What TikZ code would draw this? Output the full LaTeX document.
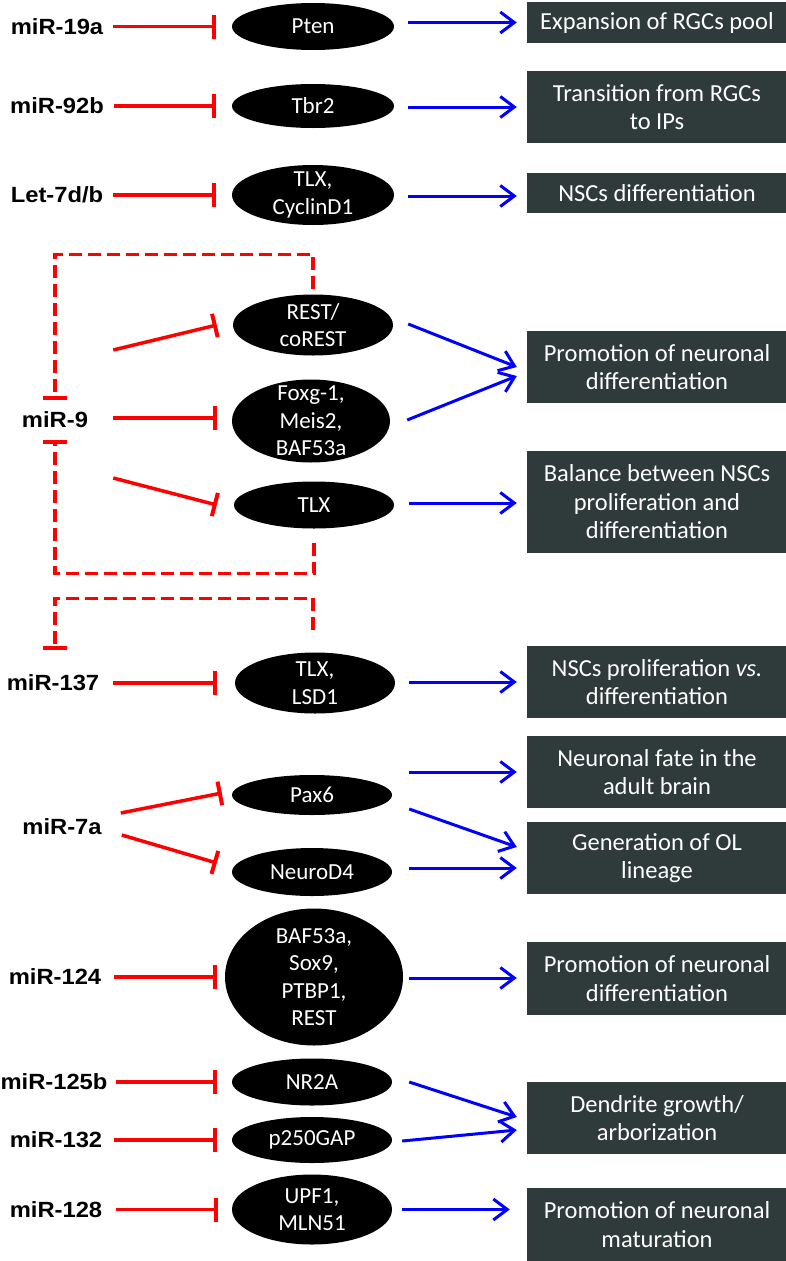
\documentclass[tikz,border=0pt]{standalone}
\usepackage{fontspec}
\setmainfont{Carlito}
\newfontfamily\lblfont[FakeStretch=1.08]{Liberation Sans}
\usetikzlibrary{arrows.meta,calc,shapes.geometric}
\definecolor{boxc}{RGB}{47,59,58}
\definecolor{inhred}{RGB}{255,0,0}
\definecolor{actblue}{RGB}{0,0,255}
\begin{document}
\begin{tikzpicture}[x=1pt,y=-1pt,
 mir/.style={font=\lblfont\bfseries\fontsize{22}{26}\selectfont, inner sep=0pt},
 ell/.style={ellipse, fill=black, minimum width=160pt, minimum height=#1, inner sep=0pt},
 etext/.style={text=white, align=center, inner sep=0pt, font=\fontsize{23}{27.5}\selectfont},
 res/.style={rectangle, fill=boxc, minimum width=260pt, minimum height=#1, inner sep=0pt, text=white, align=center, font=\fontsize{24.5}{28.5}\selectfont},
 inh/.style={draw=inhred, line width=3.5pt, -{Bar[width=24pt,line width=4pt]}},
 dinh/.style={inh, dash pattern=on 13pt off 6pt},
 act/.style={draw=actblue, line width=3pt, -{Straight Barb[length=14pt,width=21pt]}},
]
\useasboundingbox[fill=white] (0,0) rectangle (786,1261);

% miRNA labels
\node[mir] (m19)  at (57,26.5) {miR-19a};
\node[mir] (m92)  at (57,106) {miR-92b};
\node[mir] (let)  at (57,195) {Let-7d/b};
\node[mir] (m9)   at (55,420) {miR-9};
\node[mir] (m137) at (53,683) {miR-137};
\node[mir] (m7a)  at (62,827) {miR-7a};
\node[mir] (m124) at (55,977) {miR-124};
\node[mir] (m125) at (54,1082) {miR-125b};
\node[mir] (m132) at (56,1140) {miR-132};
\node[mir] (m128) at (56,1209.5) {miR-128};

% targets
\node[ell=47pt, minimum width=162pt, label={[etext]center:{Pten}}] (pten) at (313,26.5) {};
\node[ell=44pt, minimum width=162pt, label={[etext]center:{Tbr2}}] (tbr2) at (313,106) {};
\node[ell=60pt, minimum width=162pt, label={[etext]center:{TLX,\\CyclinD1}}] (tlxc) at (313,195) {};
\node[ell=61pt, label={[etext]center:{REST/\\coREST}}] (rest) at (313,325) {};
\node[ell=83pt, minimum width=158pt, label={[etext]center:{Foxg-1,\\Meis2,\\BAF53a}}] (foxg) at (311,421) {};
\node[ell=47pt, label={[etext]center:{TLX}}] (tlx) at (314,505) {};
\node[ell=61pt, label={[etext]center:{TLX,\\LSD1}}] (tlxl) at (315,683) {};
\node[ell=40pt, label={[etext]center:{Pax6}}] (pax6) at (312,795) {};
\node[ell=48pt, label={[etext]center:{NeuroD4}}] (neurod) at (312,872) {};
\node[ell=137pt, minimum width=178pt, label={[etext]center:{BAF53a,\\Sox9,\\PTBP1,\\REST}}] (baf) at (314,977) {};
\node[ell=47pt, label={[etext]center:{NR2A}}] (nr2a) at (312,1082) {};
\node[ell=46pt, label={[etext]center:{p250GAP}}] (p250) at (312,1140) {};
\node[ell=70pt, label={[etext]center:{UPF1,\\MLN51}}] (upf) at (312,1209.5) {};

% outcomes
\node[res=41pt] (b1) at (657,22.5) {Expansion of RGCs pool};
\node[res=72pt] (b2) at (657,107) {Transition from RGCs\\to IPs};
\node[res=40pt] (b3) at (657,193) {NSCs differentiation};
\node[res=72pt] (b4) at (657,367) {Promotion of neuronal\\differentiation};
\node[res=102pt] (b5) at (657,502) {Balance between NSCs\\proliferation and\\differentiation};
\node[res=72pt] (b6) at (657,682) {NSCs proliferation \textit{vs.}\\differentiation};
\node[res=72pt] (b7) at (657,772) {Neuronal fate in the\\adult brain};
\node[res=72pt] (b8) at (657,858) {Generation of OL\\lineage};
\node[res=73pt] (b9) at (657,978.5) {Promotion of neuronal\\differentiation};
\node[res=72pt] (b10) at (657,1118) {Dendrite growth/\\arborization};
\node[res=73pt] (b11) at (657,1224.5) {Promotion of neuronal\\maturation};

% inhibitions
\draw[inh] ($(m19.east)+(10,0)$) -- ($(pten.west)+(-16,0)$);
\draw[inh] ($(m92.east)+(10,0)$) -- ($(tbr2.west)+(-16,0)$);
\draw[inh] ($(let.east)+(10,0)$) -- ($(tlxc.west)+(-16,0)$);
\draw[inh] ($(m9.east)+(25,-70)$) -- ($(rest.west)+(-16,0)$);
\draw[inh] ($(m9.east)+(25,-2)$) -- ($(foxg.west)+(-15,-3)$);
\draw[inh] ($(m9.east)+(25,58)$) -- ($(tlx.west)+(-17,0)$);
\draw[inh] ($(m137.east)+(14,0)$) -- ($(tlxl.west)+(-18,0)$);
\draw[inh] ($(m7a.east)+(19,-14)$) -- ($(pax6.west)+(-10,-2)$);
\draw[inh] ($(m7a.east)+(20,8)$) -- ($(neurod.west)+(-15,-9)$);
\draw[inh] ($(m124.east)+(13,0)$) -- ($(baf.west)+(-8,0)$);
\draw[inh] ($(m125.east)+(8,0)$) -- ($(nr2a.west)+(-15,0)$);
\draw[inh] ($(m132.east)+(12,0)$) -- ($(p250.west)+(-15,0)$);
\draw[inh] ($(m128.east)+(14,0)$) -- ($(upf.west)+(-14,0)$);

% feedback (dashed)
\draw[dinh] ($(rest.north)+(0,-5)$) -- ++(0,-35) -| ($(m9.north)+(0,-12)$);
\draw[dinh] ($(tlx.south)+(0,14)$) -- ++(0,31) -| ($(m9.south)+(0,12)$);
\draw[dinh] ($(tlxl.north)+(-2,-22)$) -- ++(0,-32) -| ($(m137.north)+(2,-25)$);

% activations
\draw[act] ($(pten.east)+(14,-4)$) -- ($(b1.west)+(-10,0)$);
\draw[act] ($(tbr2.east)+(14,1)$) -- ($(b2.west)+(-10,0)$);
\draw[act] ($(tlxc.east)+(14,1)$) -- ($(b3.west)+(-10,3)$);
\draw[act] ($(rest.east)+(15,-1)$) -- ($(b4.west)+(-10,0)$);
\draw[act] ($(foxg.east)+(17,-1)$) -- ($(b4.west)+(-10,9)$);
\draw[act] ($(tlx.east)+(15,-2)$) -- ($(b5.west)+(-10,1)$);
\draw[act] ($(tlxl.east)+(14,-1)$) -- ($(b6.west)+(-10,0)$);
\draw[act] ($(pax6.east)+(17,-23)$) -- ($(b7.west)+(-10,0)$);
\draw[act] ($(pax6.east)+(17,14)$) -- ($(b8.west)+(-10,-11)$);
\draw[act] ($(neurod.east)+(17,-4)$) -- ($(b8.west)+(-10,10)$);
\draw[act] ($(baf.east)+(6,1)$) -- ($(b9.west)+(-10,-0.5)$);
\draw[act] ($(nr2a.east)+(17,0)$) -- ($(b10.west)+(-10,-1)$);
\draw[act] ($(p250.east)+(10,1)$) -- ($(b10.west)+(-10,12)$);
\draw[act] ($(upf.east)+(10,0)$) -- ($(b11.west)+(-17,-15)$);
\end{tikzpicture}
\end{document}
